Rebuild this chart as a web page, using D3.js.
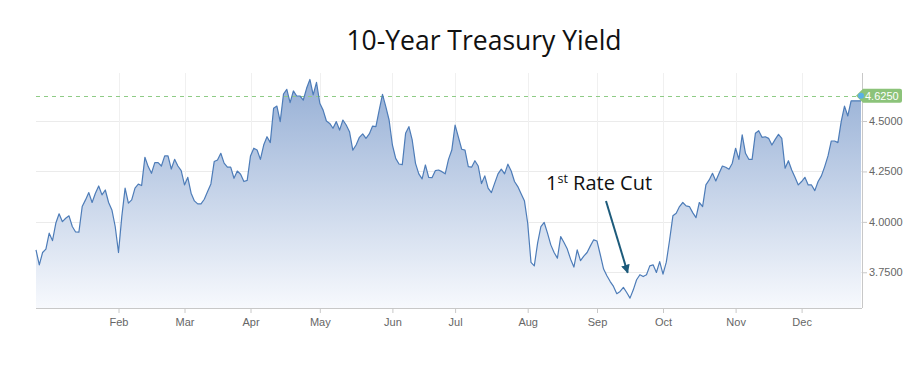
<!DOCTYPE html>
<html>
<head>
<meta charset="utf-8">
<script src="https://cdn.jsdelivr.net/npm/d3@7"></script>
<style>
  html, body { margin: 0; padding: 0; background: #ffffff; }
  svg { display: block; }
</style>
</head>
<body>
<svg id="chart" width="921" height="369"></svg>
<script>
// ---- Data (trading-day index -> 10Y yield, %) ----
const yields = [
  3.861,3.787,3.848,3.865,3.944,3.907,3.993,4.040,4.001,4.018,
  4.030,3.977,3.950,3.949,4.076,4.109,4.145,4.096,4.142,4.178,
  4.134,4.158,4.096,4.059,3.977,3.848,4.026,4.167,4.093,4.109,
  4.167,4.187,4.180,4.320,4.274,4.241,4.294,4.294,4.277,4.327,
  4.327,4.262,4.310,4.277,4.254,4.183,4.221,4.142,4.104,4.089,
  4.089,4.112,4.150,4.188,4.299,4.307,4.340,4.291,4.271,4.271,
  4.216,4.252,4.236,4.200,4.206,4.327,4.365,4.356,4.310,4.381,
  4.422,4.393,4.563,4.574,4.497,4.634,4.657,4.591,4.649,4.624,
  4.624,4.604,4.662,4.706,4.630,4.692,4.588,4.554,4.500,4.488,
  4.464,4.497,4.455,4.505,4.480,4.447,4.356,4.381,4.419,4.436,
  4.414,4.436,4.475,4.472,4.554,4.632,4.571,4.505,4.381,4.315,
  4.287,4.284,4.439,4.472,4.406,4.290,4.238,4.213,4.282,4.221,
  4.219,4.254,4.257,4.249,4.238,4.310,4.356,4.480,4.420,4.360,
  4.356,4.274,4.271,4.303,4.277,4.190,4.228,4.167,4.145,4.192,
  4.238,4.261,4.238,4.286,4.252,4.200,4.175,4.139,4.105,3.993,
  3.799,3.782,3.895,3.977,3.997,3.944,3.886,3.848,3.820,3.927,
  3.898,3.865,3.815,3.776,3.861,3.808,3.830,3.848,3.881,3.911,
  3.905,3.837,3.766,3.733,3.704,3.680,3.644,3.655,3.675,3.650,
  3.622,3.663,3.713,3.738,3.729,3.738,3.782,3.787,3.749,3.803,
  3.741,3.800,3.910,4.030,4.043,4.076,4.096,4.079,4.076,4.046,
  4.021,4.096,4.076,4.183,4.208,4.241,4.203,4.241,4.277,4.271,
  4.261,4.291,4.365,4.310,4.431,4.340,4.310,4.310,4.439,4.452,
  4.419,4.422,4.414,4.381,4.409,4.434,4.414,4.266,4.303,4.257,
  4.221,4.183,4.200,4.221,4.183,4.183,4.155,4.200,4.228,4.274,
  4.327,4.401,4.401,4.393,4.497,4.574,4.525,4.600,4.600,4.600,
  4.600
];
const monthTickIndex = [25, 45, 65, 86, 108, 127, 149, 170, 190, 212, 232];
const monthLabels = ["Feb","Mar","Apr","May","Jun","Jul","Aug","Sep","Oct","Nov","Dec"];
const yTickValues = [3.75, 4.0, 4.25, 4.5];
const lastValue = 4.625;
const titleText = "10-Year Treasury Yield";
const annotationMain = "1";
const annotationSup = "st";
const annotationRest = " Rate Cut";
const cutIndex = 179.3;
const cutValue = 3.748;

// ---- Layout ----
const svg = d3.select("#chart");
const plot = { left: 36, right: 862, top: 73, bottom: 308 };

const x = d3.scaleLinear().domain([0, yields.length - 1]).range([plot.left, plot.right - 1]);
const y = d3.scaleLinear().domain([3.573, 4.738]).range([plot.bottom, plot.top]);

// gradient
const defs = svg.append("defs");
const grad = defs.append("linearGradient")
  .attr("id", "areaGrad").attr("gradientUnits", "userSpaceOnUse")
  .attr("x1", 0).attr("x2", 0).attr("y1", plot.top).attr("y2", plot.bottom);
grad.append("stop").attr("offset", "0%").attr("stop-color", "#93add4");
grad.append("stop").attr("offset", "100%").attr("stop-color", "#f7f9fd");

const marker = defs.append("marker")
  .attr("id", "arrowHead").attr("viewBox", "0 0 10 10")
  .attr("refX", 9).attr("refY", 5)
  .attr("markerWidth", 4.4).attr("markerHeight", 4.4)
  .attr("markerUnits", "strokeWidth")
  .attr("orient", "auto");
marker.append("path").attr("d", "M0,0 L10,5 L0,10 z").attr("fill", "#1d5b7b");

// title
svg.append("text")
  .attr("x", 484).attr("y", 50)
  .attr("text-anchor", "middle")
  .attr("font-family", "'Open Sans', 'Noto Sans', sans-serif")
  .attr("font-size", 26.5)
  .attr("fill", "#111")
  .text(titleText);

// horizontal gridlines
svg.append("g").selectAll("line").data(yTickValues).join("line")
  .attr("x1", plot.left).attr("x2", plot.right)
  .attr("y1", d => Math.round(y(d)) + 0.5).attr("y2", d => Math.round(y(d)) + 0.5)
  .attr("stroke", "#ebebeb").attr("stroke-width", 1);

// vertical gridlines
svg.append("g").selectAll("line").data(monthTickIndex).join("line")
  .attr("x1", d => Math.round(x(d)) + 0.5).attr("x2", d => Math.round(x(d)) + 0.5)
  .attr("y1", plot.top).attr("y2", plot.bottom)
  .attr("stroke", "#f0f0f0").attr("stroke-width", 1);

// area
const area = d3.area()
  .x((d, i) => x(i))
  .y0(plot.bottom)
  .y1(d => y(d));
svg.append("path").datum(yields)
  .attr("d", area)
  .attr("fill", "url(#areaGrad)");

// dashed last-value line
svg.append("line")
  .attr("x1", plot.left).attr("x2", plot.right)
  .attr("y1", Math.round(y(lastValue)) + 0.5).attr("y2", Math.round(y(lastValue)) + 0.5)
  .attr("stroke", "#8fcc86").attr("stroke-width", 1)
  .attr("stroke-dasharray", "4,4");

// line
const line = d3.line().x((d, i) => x(i)).y(d => y(d));
svg.append("path").datum(yields)
  .attr("d", line)
  .attr("fill", "none")
  .attr("stroke", "#4d7cb8")
  .attr("stroke-width", 1.2)
  .attr("stroke-linejoin", "round");

// bottom axis
const xAxis = d3.axisBottom(x)
  .tickValues(monthTickIndex)
  .tickFormat((d, i) => monthLabels[i])
  .tickSize(5).tickSizeOuter(0);
const gx = svg.append("g")
  .attr("transform", `translate(0,${plot.bottom})`)
  .call(xAxis);
gx.select(".domain").attr("stroke", "#c8c8c8").attr("d", `M${plot.left},0.5H${plot.right}`);
gx.selectAll(".tick line").attr("stroke", "#c8c8c8");
gx.selectAll(".tick text")
  .attr("fill", "#666").attr("font-size", 11)
  .attr("font-family", "'Liberation Sans', Arial, sans-serif")
  .attr("dy", "0.95em");

// right axis
const yAxis = d3.axisRight(y)
  .tickValues(yTickValues)
  .tickFormat(d3.format(".4f"))
  .tickSize(5).tickSizeOuter(0);
const gy = svg.append("g")
  .attr("transform", `translate(${plot.right},0)`)
  .call(yAxis);
gy.select(".domain").attr("stroke", "#c8c8c8").attr("d", `M0.5,${plot.top}V${plot.bottom}`);
gy.selectAll(".tick line").attr("stroke", "#c8c8c8");
gy.selectAll(".tick text")
  .attr("fill", "#666").attr("font-size", 11)
  .attr("font-family", "'Liberation Sans', Arial, sans-serif")
  .attr("x", 7);

// last value label
const ly = y(lastValue);
const labelG = svg.append("g");
labelG.append("path")
  .attr("d", `M${plot.right - 6},${ly} L${plot.right + 1},${ly - 7} H${plot.right + 38} a2,2 0 0 1 2,2 V${ly + 5} a2,2 0 0 1 -2,2 H${plot.right + 1} Z`)
  .attr("fill", "#8cc37a");
labelG.append("text")
  .attr("x", plot.right + 3).attr("y", ly + 4)
  .attr("font-size", 11)
  .attr("font-family", "'Liberation Sans', Arial, sans-serif")
  .attr("fill", "#ffffff")
  .text(d3.format(".4f")(lastValue));
labelG.append("circle")
  .attr("cx", plot.right - 1).attr("cy", ly).attr("r", 3)
  .attr("fill", "#5ab0e6");

// annotation
const ann = svg.append("text")
  .attr("x", 546).attr("y", 190)
  .attr("font-family", "'Open Sans', 'Noto Sans', sans-serif")
  .attr("font-size", 20)
  .attr("fill", "#111");
ann.append("tspan").text(annotationMain);
ann.append("tspan").attr("font-size", 12.5).attr("dy", -7.5).text(annotationSup);
ann.append("tspan").attr("dy", 7.5).text(annotationRest);

svg.append("line")
  .attr("x1", 606).attr("y1", 201)
  .attr("x2", x(cutIndex)).attr("y2", y(cutValue))
  .attr("stroke", "#1d5b7b").attr("stroke-width", 2)
  .attr("marker-end", "url(#arrowHead)");
</script>
</body>
</html>
